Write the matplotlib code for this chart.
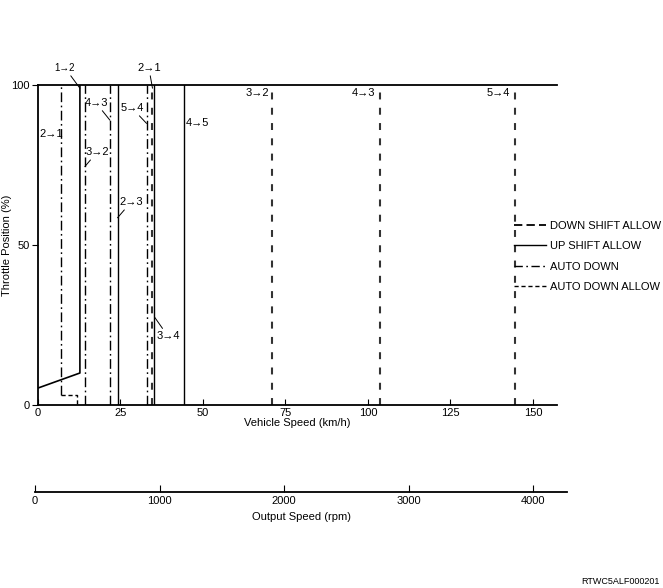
import matplotlib
matplotlib.use('Agg')
import matplotlib.pyplot as plt
from matplotlib.lines import Line2D

plt.rcParams['font.family'] = ['Liberation Sans', 'DejaVu Sans']
plt.rcParams['font.size'] = 8
plt.rcParams['lines.scale_dashes'] = False

# shift lines (km/h)
up_12_x = [0, 12.7, 12.7]
up_12_y = [5.3, 10, 100]
up_shift = {'2→3': 24.1, '3→4': 35.3, '4→5': 44.2}
auto_down = {'2→1': 7.1, '3→2': 14.2, '4→3': 21.8, '5→4': 32.9}
auto_down_21_bottom = 3
down_allow = {'2→1': 34.7, '3→2': 70.8, '4→3': 103.6, '5→4': 144.5}
auto_allow_x = [7.1, 11.9, 11.9]
auto_allow_y = [3, 3, 0]

kmh_ticks = [0, 25, 50, 75, 100, 125, 150]
rpm_ticks = [0, 1000, 2000, 3000, 4000]
thr_ticks = [0, 50, 100]

ds_style = (0, (5, 6))
ad_style = (0, (7, 2.5, 1.2, 2.5))
ada_style = (0, (3, 2))

fig = plt.figure(figsize=(6.63, 5.88), dpi=100)
ax = fig.add_axes([38/663, 1-405/588, (557-38)/663, (405-85)/588])

#up shift
ax.plot(up_12_x, up_12_y, color='black', lw=1.2)
for k, v in up_shift.items():
    ax.plot([v, v], [0, 100], color='black', lw=1.0)

#auto down
for k, v in auto_down.items():
    y0 = auto_down_21_bottom if k == '2→1' else 0
    ax.plot([v, v], [y0, 100], color='black', lw=1.0, linestyle=ad_style)
ax.plot(auto_allow_x, auto_allow_y, color='black', lw=1.0, linestyle=ada_style)

#down shift allow
for k, v in down_allow.items():
    ax.plot([v, v], [0, 100], color='#333333', lw=1.5, linestyle=ds_style)

ax.set_xlim(0, 157.3)
ax.set_ylim(0, 100)
ax.spines['right'].set_visible(False)
for s in ['left', 'bottom', 'top']:
    ax.spines[s].set_linewidth(1.3)
ax.set_xticks(kmh_ticks)
ax.set_yticks(thr_ticks)
ax.tick_params(axis='x', direction='in', length=4, pad=2)
ax.tick_params(axis='y', direction='out', length=4, pad=2)
ax.set_xlabel('Vehicle Speed (km/h)', labelpad=0)
ax.set_ylabel('Throttle Position (%)')
ax.yaxis.set_label_coords(-26/519, 0.5)

arr = dict(arrowstyle='-', lw=0.7, color='black', shrinkA=0, shrinkB=0)
# labels with leader lines: (text, text xy, line xy)
leaders = [
    ('1→2', (8.2, 105.3), (12.7, 99), 7),
    ('2→1', (33.6, 105.3), (34.7, 99), 8),
    ('4→3', (17.6, 94.4), (21.8, 89), 8),
    ('5→4', (28.5, 92.8), (32.9, 88), 8),
    ('3→2', (17.9, 79.0), (14.2, 74.5), 8),
    ('2→3', (28.2, 63.4), (24.1, 58.5), 8),
    ('3→4', (39.4, 21.5), (35.3, 27.5), 8),
]
for t, xyt, xy, fs in leaders:
    ax.annotate(t, xy=xy, xytext=xyt, ha='center', va='center', fontsize=fs,
                arrowprops=arr, annotation_clip=False)

plain = [('2→1', 3.9, 84.7), ('4→5', 48.2, 88.1),
         ('3→2', 66.4, 97.5), ('4→3', 98.8, 97.5), ('5→4', 139.4, 97.5)]
for t, x, y in plain:
    ax.text(x, y, t, ha='center', va='center', fontsize=8)

handles = [Line2D([], [], color='black', lw=1.3, linestyle=(0, (6, 3))),
           Line2D([], [], color='black', lw=1.0),
           Line2D([], [], color='black', lw=1.0, linestyle=(0, (6, 2.5, 1.2, 2.5))),
           Line2D([], [], color='black', lw=1.0, linestyle=(0, (3, 2)))]
labels = ['DOWN SHIFT ALLOW', 'UP SHIFT ALLOW', 'AUTO DOWN', 'AUTO DOWN ALLOW']
fig.legend(handles, labels, loc='upper left', bbox_to_anchor=(508/663, 1-215/588),
           frameon=False, handlelength=2.9, handletextpad=0.4, labelspacing=0.95,
           borderpad=0, fontsize=8)

#output speed axis
ax2 = fig.add_axes([35/663, 1-492/588, (567-35)/663, 0.001])
ax2.set_xlim(0, 4273)
ax2.set_yticks([])
for s in ['left', 'right', 'top']:
    ax2.spines[s].set_visible(False)
ax2.spines['bottom'].set_linewidth(1.3)
ax2.set_xticks(rpm_ticks)
ax2.tick_params(axis='x', direction='in', length=5, pad=3)
ax2.set_xlabel('Output Speed (rpm)', labelpad=4)

fig.text(660/663, 1-581/588, 'RTWC5ALF000201', ha='right', va='center', fontsize=6.5)

fig.savefig('out.png', dpi=100)
